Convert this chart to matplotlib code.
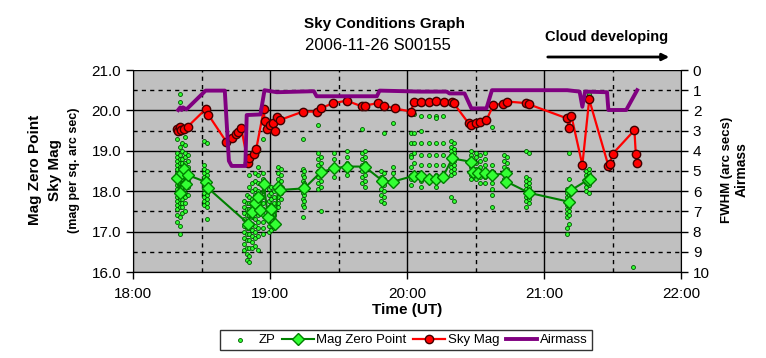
import numpy as np
import matplotlib
matplotlib.use("Agg")
import matplotlib.pyplot as plt
from matplotlib.ticker import MultipleLocator

plt.rcParams['font.family'] = ['Liberation Sans', 'DejaVu Sans']

# ZP measurements: vertical columns of points (time in hours UT, zero point values)
zp_times = [18.32, 18.34, 18.36, 18.38, 18.40, 18.52, 18.54, 18.81, 18.83, 18.85,
            18.87, 18.89, 18.91, 18.95, 18.99, 19.01, 19.03, 19.06, 19.08, 19.24,
            19.25, 19.35, 19.37, 19.47, 19.56, 19.67, 19.69, 19.81, 19.83, 19.90,
            20.03, 20.05, 20.10, 20.16, 20.21, 20.26, 20.32, 20.34, 20.47, 20.50,
            20.53, 20.57, 20.62, 20.71, 20.73, 20.87, 20.89, 21.17, 21.18, 21.31,
            21.33, 21.65]
zp_cols = [
    [19.3, 18.95, 18.85, 18.75, 18.65, 18.55, 18.45, 18.35, 18.25, 18.15, 18.05, 17.95, 17.85, 17.75, 17.65, 17.55, 17.4, 17.25],
    [20.4, 20.2, 19.45, 19.1, 18.9, 18.8, 18.7, 18.6, 18.5, 18.4, 18.3, 18.2, 18.1, 18.0, 17.9, 17.8, 17.7, 17.6, 17.35, 17.15, 16.95],
    [20.05, 19.2, 19.0, 18.8, 18.7, 18.6, 18.5, 18.4, 18.3, 18.2, 18.1, 18.0, 17.9, 17.8, 17.7, 17.6, 17.45],
    [19.35, 19.15, 18.95, 18.85, 18.7, 18.55, 18.45, 18.35, 18.25, 18.1, 17.95, 17.85, 17.7, 17.5],
    [18.9, 18.75, 18.6, 18.4, 18.25, 18.1, 17.9],
    [19.25, 18.65, 18.55, 18.45, 18.35, 18.25, 18.15, 18.05, 17.95, 17.85, 17.75, 17.65],
    [19.2, 18.5, 18.4, 18.3, 18.2, 18.1, 18.0, 17.9, 17.8, 17.7, 17.6, 17.3],
    [17.75, 17.6, 17.45, 17.3, 17.15, 17.0, 16.85, 16.7, 16.55],
    [17.9, 17.7, 17.55, 17.4, 17.25, 17.1, 16.95, 16.8, 16.6, 16.45, 16.3],
    [18.4, 18.1, 17.85, 17.7, 17.55, 17.4, 17.25, 17.1, 16.95, 16.8, 16.6, 16.4, 16.25],
    [18.2, 18.0, 17.8, 17.65, 17.5, 17.35, 17.2, 17.05, 16.9, 16.75, 16.6],
    [18.45, 18.25, 18.05, 17.9, 17.75, 17.6, 17.45, 17.3, 17.15, 17.0, 16.85, 16.65],
    [19.0, 18.6, 18.4, 18.2, 18.0, 17.85, 17.7, 17.55, 17.4, 17.25, 17.1, 16.9, 16.55],
    [19.3, 18.45, 18.3, 18.15, 18.0, 17.85, 17.7, 17.55, 17.4, 17.25, 17.1, 16.95],
    [18.05, 17.9, 17.75, 17.6, 17.45, 17.3, 17.15, 17.0],
    [18.1, 17.95, 17.8, 17.65, 17.5, 17.35, 17.2, 17.05],
    [18.0, 17.85, 17.7, 17.55, 17.4, 17.25, 17.1],
    [18.6, 18.45, 18.3, 18.15, 18.0, 17.85, 17.7, 17.6],
    [18.55, 18.4, 18.25, 18.1, 17.95, 17.8],
    [19.3, 18.55, 18.4, 18.25, 18.1, 17.95, 17.8, 17.65, 17.35],
    [18.5, 18.35, 18.2, 18.05, 17.9, 17.75, 17.6],
    [19.65, 18.95, 18.8, 18.65, 18.5, 18.35, 18.2, 18.05],
    [18.85, 18.7, 18.55, 18.4, 18.25, 18.1, 17.5],
    [18.95, 18.8, 18.65, 18.5, 18.35],
    [19.0, 18.85, 18.7, 18.55, 18.4],
    [19.55, 18.95, 18.8, 18.65, 18.5, 18.35, 18.2],
    [19.0, 18.85, 18.7, 18.55, 18.4, 18.25, 18.1],
    [18.5, 18.35, 18.2, 18.05, 17.9, 17.75],
    [19.45, 18.45, 18.3, 18.15, 18.0, 17.85, 17.7],
    [19.7, 18.6, 18.45, 18.3, 18.15],
    [19.9, 19.45, 19.2, 18.9, 18.85, 18.6, 18.4, 18.3, 18.15],
    [19.9, 19.45, 19.2, 18.95, 18.7, 18.45, 18.3],
    [19.85, 19.5, 19.2, 18.9, 18.65, 18.4, 18.25, 18.1],
    [19.85, 19.2, 18.9, 18.65, 18.35],
    [19.85, 19.8, 19.2, 18.9, 18.65, 18.4, 18.1],
    [19.85, 19.2, 18.9, 18.65, 18.35],
    [19.25, 19.1, 19.0, 18.9, 18.8, 18.7, 18.6, 18.5, 18.4, 17.85],
    [19.2, 19.05, 18.95, 18.85, 18.75, 18.65, 18.55, 18.45, 17.75],
    [19.0, 18.9, 18.8, 18.7, 18.6, 18.5, 18.4, 18.3],
    [18.95, 18.85, 18.7, 18.55, 18.45, 18.3],
    [18.9, 18.75, 18.6, 18.5, 18.35, 18.2],
    [18.95, 18.8, 18.65, 18.5, 18.35, 18.2],
    [19.6, 18.65, 18.5, 18.35, 18.2, 18.05, 17.9, 17.6],
    [18.9, 18.75, 18.6, 18.45, 18.3, 18.2],
    [18.85, 18.7, 18.55, 18.4, 18.25],
    [19.0, 18.35, 18.25, 18.15, 18.05, 17.95, 17.85, 17.75, 17.6],
    [18.95, 18.3, 18.2, 18.1, 18.0, 17.9, 17.8, 17.7],
    [18.05, 17.95, 17.85, 17.75, 17.65, 17.55, 17.45, 17.35, 17.1, 16.95],
    [18.95, 18.3, 18.0, 17.9, 17.8, 17.7, 17.6, 17.5, 17.4, 17.2],
    [18.5, 18.4, 18.3, 18.2, 18.1, 18.0],
    [20.4, 18.55, 18.45, 18.35, 18.25, 18.15, 17.95],
    [16.13],
]

mzp_t = [18.32, 18.34, 18.355, 18.37, 18.39, 18.40, 18.53, 18.55, 18.84, 18.865,
         18.89, 18.915, 18.93, 18.955, 18.985, 19.01, 19.035, 19.06, 19.07, 19.25,
         19.37, 19.47, 19.56, 19.69, 19.82, 19.90, 20.05, 20.10, 20.16, 20.21,
         20.26, 20.33, 20.465, 20.48, 20.52, 20.57, 20.62, 20.72, 20.725, 20.89,
         21.18, 21.20, 21.32, 21.335]
mzp_v = [18.32, 17.95, 18.44, 18.56, 18.19, 18.40, 18.23, 18.07, 17.20, 17.49,
         17.70, 17.86, 17.54, 18.19, 17.36, 17.57, 17.20, 18.11, 18.03, 18.07,
         18.47, 18.57, 18.61, 18.61, 18.26, 18.24, 18.38, 18.37, 18.29, 18.29,
         18.34, 18.81, 18.73, 18.48, 18.46, 18.46, 18.40, 18.44, 18.24, 17.96,
         17.74, 18.03, 18.28, 18.29]

sky_t = [18.32, 18.33, 18.34, 18.35, 18.37, 18.40, 18.53, 18.55, 18.68, 18.72,
         18.75, 18.77, 18.79, 18.84, 18.85, 18.88, 18.90, 18.955, 18.96, 18.98,
         19.00, 19.02, 19.04, 19.05, 19.07, 19.24, 19.34, 19.37, 19.46, 19.56,
         19.67, 19.69, 19.79, 19.83, 19.91, 20.03, 20.05, 20.10, 20.16, 20.21,
         20.27, 20.33, 20.34, 20.45, 20.47, 20.50, 20.53, 20.58, 20.63, 20.70,
         20.73, 20.87, 20.89, 21.17, 21.18, 21.20, 21.28, 21.33, 21.47, 21.48,
         21.50, 21.66, 21.67, 21.68]
sky_v = [19.55, 19.50, 19.60, 19.52, 19.55, 19.60, 20.03, 19.89, 19.23, 19.31,
         19.42, 19.47, 19.56, 18.69, 18.81, 18.93, 19.05, 20.03, 19.75, 19.55,
         19.63, 19.68, 19.50, 19.84, 19.76, 19.97, 19.97, 20.05, 20.18, 20.24,
         20.10, 20.12, 20.18, 20.12, 20.05, 19.97, 20.22, 20.22, 20.22, 20.24,
         20.22, 20.20, 20.18, 19.68, 19.64, 19.70, 19.72, 19.76, 20.13, 20.17,
         20.22, 20.18, 20.15, 19.80, 19.57, 19.86, 18.65, 20.27, 18.63, 18.68,
         18.92, 19.51, 18.92, 18.71]

air_t = [18.33, 18.345, 18.355, 18.365, 18.39, 18.53, 18.67, 18.70, 18.72, 18.82,
         18.83, 18.93, 18.96, 19.05, 19.32, 19.34, 19.78, 19.80, 20.10, 20.29,
         20.31, 20.42, 20.47, 20.58, 20.62, 21.17, 21.26, 21.28, 21.30, 21.46,
         21.47, 21.60, 21.68]
air_v = [1.98, 1.85, 1.98, 1.85, 1.95, 1.02, 1.02, 4.5, 4.75, 4.75,
         2.23, 2.2, 1.0, 1.1, 1.05, 1.3, 1.3, 1.02, 1.07, 1.07,
         1.16, 1.16, 1.9, 1.9, 1.0, 1.0, 1.07, 1.82, 1.07, 1.1,
         1.98, 1.98, 1.0]

x_ticks = [18, 19, 20, 21, 22]
x_labels = ['18:00', '19:00', '20:00', '21:00', '22:00']

zp_x = []
zp_y = []
for t, col in zip(zp_times, zp_cols):
    for v in col:
        zp_x.append(t)
        zp_y.append(v)

fig = plt.figure(figsize=(7.66, 3.58), dpi=100)
ax = fig.add_axes([133/766, 1-272/358, (681-133)/766, (272-70)/358])
ax.set_facecolor('#C0C0C0')

ax.set_xlim(18, 22)
ax.set_ylim(16, 21)
ax.set_xticks(x_ticks)
ax.set_xticklabels(x_labels)
ax.xaxis.set_minor_locator(MultipleLocator(0.5))
ax.yaxis.set_major_locator(MultipleLocator(1))
ax.yaxis.set_minor_locator(MultipleLocator(0.5))
ax.yaxis.set_major_formatter(matplotlib.ticker.FormatStrFormatter('%.1f'))
ax.grid(which='major', color='black', lw=1, ls='-')
ax.grid(which='minor', color='black', lw=1, ls=(0, (3, 3)))
ax.set_axisbelow(True)
ax.tick_params(which='minor', length=0)
ax.tick_params(which='major', direction='out', length=5, labelsize=11, width=1)
ax.tick_params(axis='x', pad=6)
ax.spines['top'].set_visible(False)
ax.spines['right'].set_visible(False)

ax.scatter(zp_x, zp_y, s=8, c='#33FF33', edgecolors='#005500', linewidths=0.6,
           zorder=3, label='ZP')
ax.plot(mzp_t, mzp_v, color='#008000', lw=1.5, marker='D', ms=6,
        mfc='#33FF33', mec='#008000', zorder=4, label='Mag Zero Point')
ax.plot(sky_t, sky_v, color='#FF0000', lw=1.6, marker='o', ms=6,
        mfc='#FF0000', mec='#400000', zorder=5, label='Sky Mag')

ax2 = ax.twinx()
ax2.set_ylim(10, 0)
ax2.yaxis.set_major_locator(MultipleLocator(1))
ax2.tick_params(direction='out', length=5, labelsize=11, width=1)
ax2.spines['top'].set_visible(False)
ax2.spines['left'].set_visible(False)
ax2.plot(air_t, air_v, color='#800080', lw=2.8, label='Airmass')

ax.set_xlabel('Time (UT)', fontsize=11, fontweight='bold', labelpad=1)

fig.text(35/766, 1-170/358, 'Mag Zero Point', rotation=90, ha='center', va='center',
         fontsize=11, fontweight='bold')
fig.text(55/766, 1-170/358, 'Sky Mag', rotation=90, ha='center', va='center',
         fontsize=11, fontweight='bold')
fig.text(74/766, 1-170/358, '(mag per sq. arc sec)', rotation=90, ha='center', va='center',
         fontsize=9, fontweight='bold')
fig.text(727/766, 1-170/358, 'FWHM (arc secs)', rotation=90, ha='center', va='center',
         fontsize=9.5, fontweight='bold')
fig.text(742/766, 1-170/358, 'Airmass', rotation=90, ha='center', va='center',
         fontsize=10, fontweight='bold')

fig.text(385/766, 1-24/358, 'Sky Conditions Graph', ha='center', va='center',
         fontsize=11, fontweight='bold')
fig.text(305/766, 1-45/358, '2006-11-26 S00155', ha='left', va='center', fontsize=12)
fig.text(607/766, 1-37/358, 'Cloud developing', ha='center', va='center',
         fontsize=10.5, fontweight='bold')
fig.add_artist(matplotlib.patches.FancyArrowPatch(
    (545/766, 1-57/358), (672/766, 1-57/358), transform=fig.transFigure,
    arrowstyle='-|>', mutation_scale=10, color='black', lw=2))

h1, l1 = ax.get_legend_handles_labels()
h2, l2 = ax2.get_legend_handles_labels()
leg = fig.legend(h1 + h2, l1 + l2, loc='center', bbox_to_anchor=(406/766, 1-340/358),
                 ncol=4, frameon=True, fancybox=False, fontsize=9.5, handlelength=2.4,
                 handletextpad=0.2, columnspacing=0.5, borderpad=0.3)
leg.get_frame().set_edgecolor('black')
leg.get_frame().set_linewidth(1)

fig.savefig('out.png', dpi=100)
